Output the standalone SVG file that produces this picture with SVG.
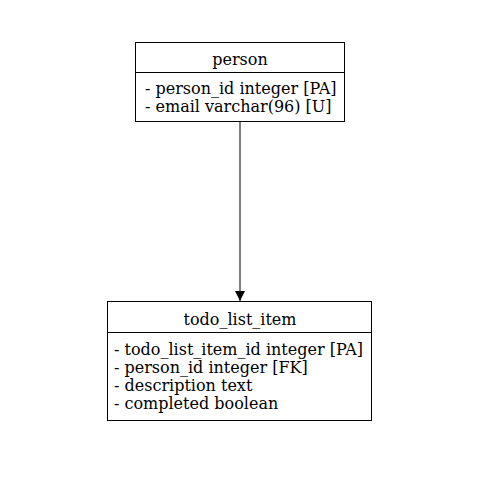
<svg xmlns="http://www.w3.org/2000/svg" width="480" height="480" viewBox="0 0 480 480">
<style>
.box{fill:#fff;stroke:#000;stroke-width:1}
.t{font-family:"DejaVu Serif","Liberation Serif",serif;font-size:16px;fill:#000}
.c{text-anchor:middle}
.edge{stroke:#000;stroke-width:1;fill:none}
</style>
<defs>
<marker id="arr" markerWidth="10" markerHeight="14" refX="10" refY="5" orient="auto" markerUnits="userSpaceOnUse" viewBox="0 0 10 10">
<path d="M0,0 L10,5 L0,10 z" fill="#000"/>
</marker>
</defs>
<rect width="480" height="480" fill="#fff"/>
<g id="connectors">
<path class="edge" d="M240,122 L240,301" marker-end="url(#arr)"/>
</g>
<g id="person">
<rect class="box" x="135.5" y="42.5" width="209" height="79"/>
<line class="edge" x1="135.5" y1="72.5" x2="344.5" y2="72.5"/>
<text class="t c" x="240" y="65">person</text>
<text class="t" x="145" y="94">- person_id integer [PA]</text>
<text class="t" x="145" y="112">- email varchar(96) [U]</text>
</g>
<g id="todo_list_item">
<rect class="box" x="107.5" y="301.5" width="264" height="119"/>
<line class="edge" x1="107.5" y1="332.5" x2="371.5" y2="332.5"/>
<text class="t c" x="240" y="325">todo_list_item</text>
<text class="t" x="114" y="355">- todo_list_item_id integer [PA]</text>
<text class="t" x="114" y="373">- person_id integer [FK]</text>
<text class="t" x="114" y="391">- description text</text>
<text class="t" x="114" y="409">- completed boolean</text>
</g>
</svg>
